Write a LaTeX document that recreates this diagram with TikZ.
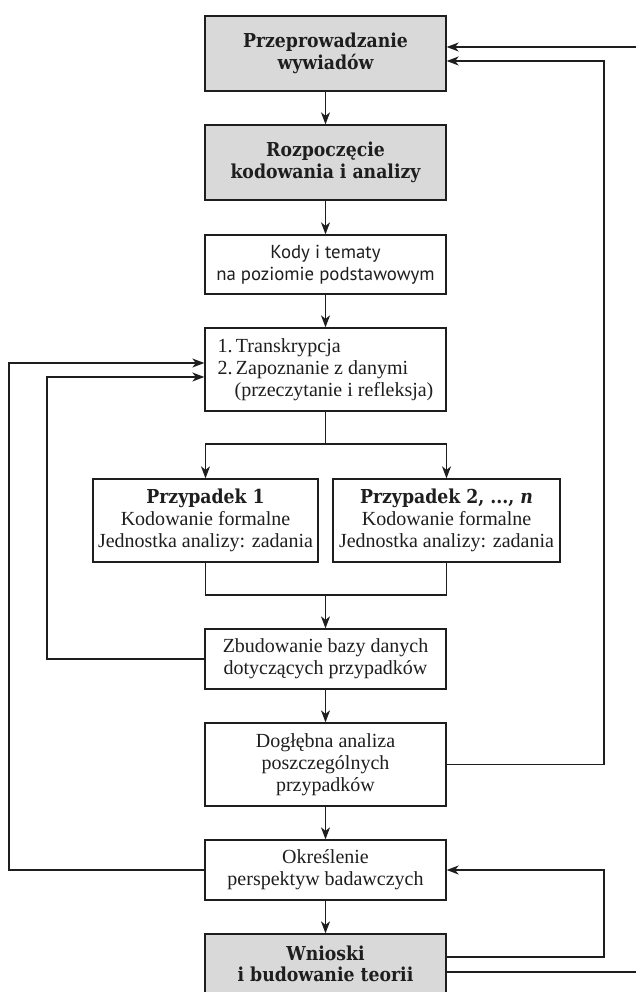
\documentclass[tikz,border=0pt]{standalone}
\usepackage{fontspec}
\setmainfont{Liberation Serif}
\newfontfamily\slabfont{DejaVu Serif Condensed}
\newfontfamily\kodyfont{PT Sans}
\usetikzlibrary{arrows.meta}

\definecolor{boxgray}{RGB}{217,217,217}
\definecolor{ink}{RGB}{30,30,30}

\begin{document}
\begin{tikzpicture}[x=1pt,y=-1pt,
  box/.style={draw=ink,line width=1.3pt,fill=white,text=ink,align=center,
    inner sep=0pt,minimum width=241pt,font=\fontsize{20}{22}\selectfont},
  graybox/.style={box,fill=boxgray,minimum height=75pt,
    font=\slabfont\bfseries\fontsize{19.2}{21.5}\selectfont},
  case/.style={box,minimum height=83pt},
  arr/.style={draw=ink,line width=1.3pt,-{Stealth[length=12pt,width=9pt,inset=3.5pt]}},
  line/.style={draw=ink,line width=1.3pt}]

\useasboundingbox (0,0) rectangle (636,992);

\coordinate (przeprowadzanie-c) at (325.5,53.5);
\coordinate (rozpoczecie-c) at (325.5,162.5);
\coordinate (kody-c) at (325.5,264.5);
\coordinate (transkrypcja-c) at (325.5,369.5);
\coordinate (przypadek-1-c) at (205.5,520.5);
\coordinate (przypadek-n-c) at (446.5,520.5);
\coordinate (baza-c) at (325.5,659);
\coordinate (analiza-c) at (325.5,764.5);
\coordinate (perspektywy-c) at (325.5,870);
\coordinate (wnioski-c) at (325.5,964);

\coordinate (split) at (325.5,444);
\coordinate (merge) at (325.5,595);
\coordinate (left-outer) at (9,0);
\coordinate (left-inner) at (47,0);
\coordinate (right-inner) at (604,0);
\coordinate (right-outer) at (660,0);

\node [graybox] (przeprowadzanie) at (przeprowadzanie-c) {Przeprowadzanie\\wywiadów};
\node [graybox] (rozpoczecie) at (rozpoczecie-c) {Rozpoczęcie\\kodowania i analizy};
\node [box,minimum height=59pt,font=\kodyfont\fontsize{18.8}{22}\selectfont] (kody) at (kody-c) {Kody i tematy\\na poziomie podstawowym};
\node [box,minimum height=83pt,align=left] (transkrypcja) at (transkrypcja-c)
  {1.\,Transkrypcja\\2.\,Zapoznanie z danymi\\\hspace*{0.85em}(przeczytanie i refleksja)};
\node [case,minimum width=225pt] (przypadek-1) at (przypadek-1-c)
  {{\slabfont\bfseries\fontsize{19.2}{21.5}\selectfont Przypadek 1}\\Kodowanie formalne\\Jednostka analizy: zadania};
\node [case,minimum width=227pt] (przypadek-n) at (przypadek-n-c)
  {{\slabfont\bfseries\fontsize{19.2}{21.5}\selectfont Przypadek 2, ..., \textit{n}}\\Kodowanie formalne\\Jednostka analizy: zadania};
\node [box,minimum height=60pt] (baza) at (baza-c) {Zbudowanie bazy danych\\dotyczących przypadków};
\node [box,minimum height=83pt] (analiza) at (analiza-c) {Dogłębna analiza\\poszczególnych\\przypadków};
\node [box,minimum height=60pt] (perspektywy) at (perspektywy-c) {Określenie\\perspektyw badawczych};
\node [graybox,minimum height=60pt] (wnioski) at (wnioski-c) {Wnioski\\i budowanie teorii};

% main flow
\draw [arr] (przeprowadzanie) -- (rozpoczecie);
\draw [arr] (rozpoczecie) -- (kody);
\draw [arr] (kody) -- (transkrypcja);
\draw [line] (transkrypcja) -- (split);
\draw [arr] (split) -| (przypadek-1);
\draw [arr] (split) -| (przypadek-n);
\draw [line] (przypadek-1) |- (merge) -| (przypadek-n);
\draw [arr] (merge) -- (baza);
\draw [arr] (baza) -- (analiza);
\draw [arr] (analiza) -- (perspektywy);
\draw [arr] (perspektywy) -- (wnioski);

% feedback loops
\draw [arr] (perspektywy.west) -- (perspektywy.west -| left-outer) |- ([yshift=6.5pt]transkrypcja.west);
\draw [arr] (baza.west) -- (baza.west -| left-inner) |- ([yshift=-7.5pt]transkrypcja.west);
\draw [arr] (analiza.east) -- (analiza.east -| right-inner) |- ([yshift=-7.5pt]przeprowadzanie.east);
\draw [arr] ([yshift=7pt]wnioski.east) -- ([yshift=7pt]wnioski.east -| right-inner) |- (perspektywy.east);
\draw [arr] ([yshift=-8pt]wnioski.east) -- ([yshift=-8pt]wnioski.east -| right-outer) |- ([yshift=6.5pt]przeprowadzanie.east);

\end{tikzpicture}
\end{document}
